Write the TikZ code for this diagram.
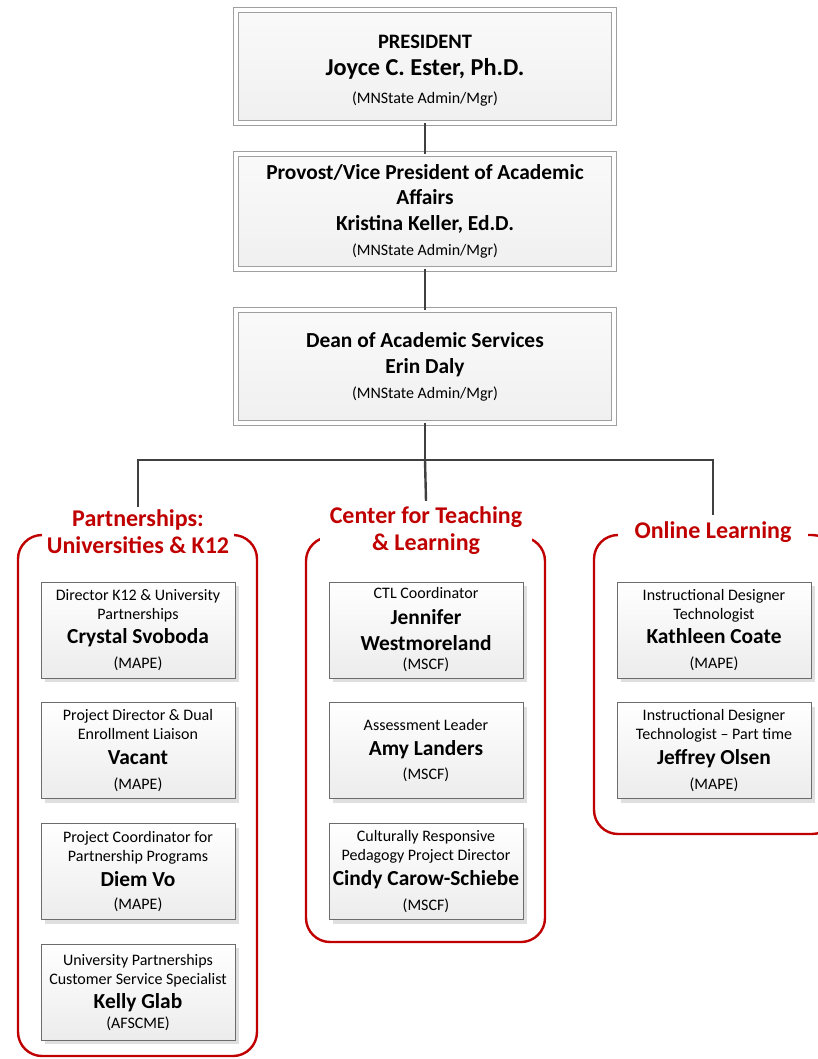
\documentclass[tikz,border=0pt]{standalone}
\usepackage{xcolor}
\usepackage{fontspec}
\setmainfont{Carlito}
\usepackage{tikz}
\usetikzlibrary{positioning, shadows}
\definecolor{deptred}{HTML}{C00000}
\definecolor{linkgray}{HTML}{404040}

\begin{document}
\begin{tikzpicture}[x=1pt, y=-1pt,
		topbox/.style={draw=gray!75, double=white, double distance=4pt, line width=0.8pt,
			top color=gray!4, bottom color=gray!12, minimum width=378pt, minimum height=113pt,
			align=center, inner sep=0pt, font=\fontsize{21.4}{25}\selectfont\bfseries},
		staffbox/.style={draw=gray!85!black, line width=0.8pt, top color=white, bottom color=gray!15,
			minimum width=194pt, minimum height=96pt, align=center, inner sep=0pt,
			font=\fontsize{16}{19}\selectfont,
			general shadow={fill=gray!25, shadow xshift=4pt, shadow yshift=-4pt}},
		depttitle/.style={text=deptred, fill=white, align=center, inner ysep=0pt,
			font=\fontsize{24}{27}\selectfont\bfseries},
		deptframe/.style={draw=deptred, line width=2.4pt, rounded corners=24pt},
		link/.style={draw=linkgray, line width=2.4pt}]
	
	\clip (0,0) rectangle (818,1059);
	
	% Leadership
	\node[topbox] (president) at (425,66.5) {\rule{0pt}{22pt}{\fontsize{20.5}{19}\selectfont PRESIDENT}\\[2pt]
		{\fontsize{24.3}{25}\selectfont Joyce C. Ester, Ph.D.}\\[3.5pt]
		{\mdseries\fontsize{16}{19}\selectfont (MNState Admin/Mgr)}};
	\node[topbox, minimum height=115pt] (provost) at (425,211.5) {Provost/Vice President of Academic\\
		Affairs\\[1pt] Kristina Keller, Ed.D.\\
		{\mdseries\fontsize{16}{19}\selectfont (MNState Admin/Mgr)}};
	\node[topbox] (dean) at (425,366.5) {Dean of Academic Services\\[1pt] Erin Daly\\
		{\mdseries\fontsize{16}{19}\selectfont (MNState Admin/Mgr)}};
	
	% Department frames
	\draw[deptframe] (18,535) rectangle (257,1056);
	\draw[deptframe] (306,537) rectangle (545,942);
	\draw[deptframe] (594,535) rectangle (836,834);
	
	\node[depttitle, inner xsep=5pt] (partners) at (138,532) {Partnerships:\\ Universities \& K12};
	\node[depttitle, inner xsep=10pt] (ctl) at (426,531) {Center for Teaching\\ \& Learning};
	\node[depttitle, inner xsep=17pt] (online) at (713,532) {Online Learning};
	
	% Connectors
	\coordinate (hub) at (425,460);
	\draw[link] (president) -- (provost);
	\draw[link] (provost) -- (dean);
	\draw[link] (dean) -- (hub);
	\draw[link] (hub) -| ([yshift=3pt]partners.north);
	\draw[link] (hub) -- ([yshift=6pt]ctl.north);
	\draw[link] (hub) -| ([yshift=6pt]online.north);
	
	% Partnerships: Universities & K12
	\node[staffbox] (p1) at (138,630) {Director K12 \& University\\ Partnerships\\[5.5pt]
		{\fontsize{21.4}{19}\selectfont\bfseries Crystal Svoboda}\\[5.5pt] (MAPE)};
	\node[staffbox, below=24pt of p1] (p2) {Project Director \& Dual\\ Enrollment Liaison\\[5.5pt]
		{\fontsize{21.4}{19}\selectfont\bfseries Vacant}\\[6.5pt] (MAPE)};
	\node[staffbox, below=24pt of p2] (p3) {Project Coordinator for\\ Partnership Programs\\[5.5pt]
		{\fontsize{21.4}{19}\selectfont\bfseries Diem Vo}\\[4.5pt] (MAPE)};
	\node[staffbox, below=24pt of p3] (p4) {University Partnerships\\ Customer Service Specialist\\[5.5pt]
		{\fontsize{21.4}{19}\selectfont\bfseries Kelly Glab}\\[0.5pt] (AFSCME)};
	
	% Center for Teaching & Learning
	\node[staffbox] (c1) at (426,630) {CTL Coordinator\\[6.5pt]
		{\fontsize{21.4}{19}\selectfont\bfseries Jennifer}\\[7pt]
		{\fontsize{21.4}{19}\selectfont\bfseries Westmoreland}\\[0.5pt] (MSCF)};
	\node[staffbox, below=24pt of c1] (c2) {Assessment Leader\\[5.5pt]
		{\fontsize{21.4}{19}\selectfont\bfseries Amy Landers}\\[5.5pt] (MSCF)};
	\node[staffbox, below=24pt of c2] (c3) {Culturally Responsive\\ Pedagogy Project Director\\[5.5pt]
		{\fontsize{21.4}{19}\selectfont\bfseries Cindy Carow-Schiebe}\\[6.5pt] (MSCF)};
	
	% Online Learning
	\node[staffbox] (o1) at (714,630) {Instructional Designer\\ Technologist\\[5.5pt]
		{\fontsize{21.4}{19}\selectfont\bfseries Kathleen Coate}\\[5.5pt] (MAPE)};
	\node[staffbox, below=24pt of o1] (o2) {Instructional Designer\\ Technologist -- Part time\\[5.5pt]
		{\fontsize{21.4}{19}\selectfont\bfseries Jeffrey Olsen}\\[6.5pt] (MAPE)};
	
\end{tikzpicture}
\end{document}
